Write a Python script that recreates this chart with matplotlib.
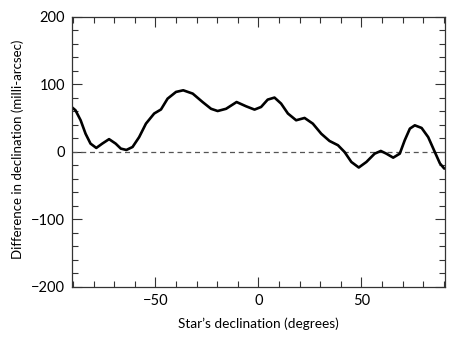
import matplotlib
matplotlib.use("Agg")
import matplotlib.pyplot as plt
from matplotlib.ticker import MultipleLocator

# values
declination = [-90.7, -88.8, -86.3, -83.9, -81.5, -78.7, -75.8, -72.5, -69.3, -66.8,
               -64.1, -61.1, -57.9, -54.6, -50.6, -47.3, -44.1, -40, -36.5, -31.9,
               -27.1, -23, -19.8, -15.7, -10.6, -6, -1.9, 1.3, 4.5, 7.8,
               11, 14.3, 18.3, 22.4, 26.4, 30.5, 34.5, 38.6, 41.8, 45.1,
               48.7, 52.4, 56.4, 59.4, 62.1, 65.4, 68.6, 71, 73.5, 75.9,
               79.2, 82.4, 85.6, 88.1, 90.2]
difference = [66.7, 61.8, 47, 27, 12.4, 6, 12.4, 19, 12.4, 5,
              3, 7.4, 22, 42, 57, 63, 79, 89, 91.4, 86.5,
              74, 64, 60.7, 64, 74, 67.7, 62.8, 66.7, 77.6, 80.6,
              71.7, 57, 47, 50.4, 42, 27, 16.3, 10, 0, -14.8,
              -23, -14.8, -2.5, 1.5, -2.5, -8.4, -2.5, 17.3, 34.6, 39.5,
              35.6, 22, 0, -17, -24.6]

plt.rcParams['font.family'] = ['Lato', 'DejaVu Sans']
plt.rcParams['font.size'] = 10

fig = plt.figure(figsize=(4.57, 3.40), dpi=100)
ax = fig.add_axes([0.1575, 0.156, 0.816, 0.794])

ax.axhline(0, color='#555555', lw=0.9, ls=(0, (4, 3)))
ax.plot(declination, difference, color='black', lw=1.9,
        solid_joinstyle='round', solid_capstyle='round')

ax.set_xlim(-90.5, 90.5)
ax.set_ylim(-200, 200)
ax.xaxis.set_major_locator(MultipleLocator(50))
ax.xaxis.set_minor_locator(MultipleLocator(10))
ax.yaxis.set_major_locator(MultipleLocator(100))
ax.yaxis.set_minor_locator(MultipleLocator(20))
ax.tick_params(which='both', direction='in', top=True, right=True,
               color='#333333', width=0.8, labelsize=10.5)
ax.tick_params(which='major', length=7, pad=5)
ax.tick_params(which='minor', length=4)
for sp in ax.spines.values():
    sp.set_color('#333333')
    sp.set_linewidth(0.9)

ax.set_xlabel("Star\u2019s declination (degrees)", fontsize=9.8, labelpad=7)
ax.set_ylabel("Difference in declination (milli-arcsec)", fontsize=9.5)
ax.yaxis.set_label_coords(-0.128, 0.51)

fig.savefig("out.png", dpi=100)
